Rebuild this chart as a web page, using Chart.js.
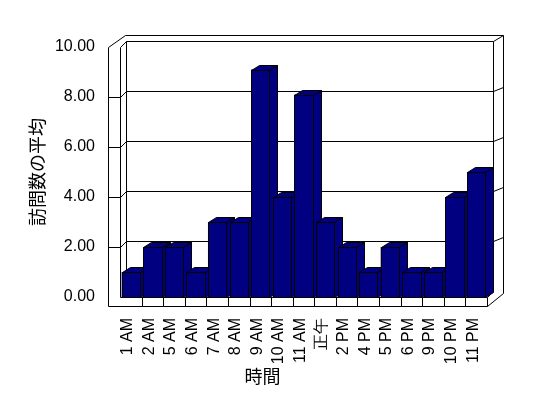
<!DOCTYPE html>
<html><head><meta charset="utf-8">
<script src="https://cdn.jsdelivr.net/npm/chart.js@4"></script>
<style>html,body{margin:0;padding:0;background:#fff}#wrap{width:548px;height:398px;position:relative}</style>
</head><body><div id="wrap"><canvas id="c"></canvas></div>
<script>
const categories = ['1 AM','2 AM','5 AM','6 AM','7 AM','8 AM','9 AM','10 AM','11 AM','正午','2 PM','4 PM','5 PM','6 PM','9 PM','10 PM','11 PM'];
const averageVisits = [1,2,2,1,3,3,9.1,4,8.1,3,2,1,2,1,1,4,5];
const yTicks = [0,2,4,6,8,10];
const xTitle = '時間';
const yTitle = '訪問数の平均';

const NAVY = '#000080';
const WALL = {dx:6, dy:-6};
const BAR = {dx:8, dy:-5};

function ln(ctx,x1,y1,x2,y2){
  ctx.beginPath();
  ctx.moveTo(Math.round(x1)+0.5, Math.round(y1)+0.5);
  ctx.lineTo(Math.round(x2)+0.5, Math.round(y2)+0.5);
  ctx.stroke();
}

const framePlugin = {
  id:'frame3d',
  beforeDatasetsDraw(chart){
    const ctx = chart.ctx, xs = chart.scales.x, ys = chart.scales.y;
    const L = xs.left, R = xs.right;
    const y0 = ys.getPixelForValue(yTicks[0]);
    const yT = ys.getPixelForValue(yTicks[yTicks.length-1]);
    ctx.save();
    ctx.strokeStyle = '#000'; ctx.lineWidth = 1;
    const bL = L + WALL.dx, bR = R + WALL.dx, bT = yT + WALL.dy, bB = y0 + WALL.dy;
    const oL = L - 12, oT = yT - 12, oR = R + 16, oB = y0 + 9;
    yTicks.slice(1, -1).forEach(v => {
      const y = ys.getPixelForValue(v);
      ln(ctx, oL, y, L, y);
      ln(ctx, L, y, bL, y + WALL.dy);
      ln(ctx, bL, y + WALL.dy, bR, y + WALL.dy);
      ln(ctx, bR, y + WALL.dy, oR, y + WALL.dy - 4);
    });
    ln(ctx, oL, yT, oL, oB);
    ln(ctx, L, yT, L, y0);
    ln(ctx, bL, bT, bL, bB);
    ln(ctx, oL, yT, L + 5, oT);
    ln(ctx, L, yT, bL, bT);
    ln(ctx, L + 5, oT, oR, oT);
    ln(ctx, bL, bT, bR, bT);
    ln(ctx, bR, bT, oR, oT);
    ln(ctx, bR, bT, bR, bB);
    ln(ctx, oR, oT, oR, bB + 2);
    ln(ctx, bL, bB, bR, bB);
    ln(ctx, L, y0, R, y0);
    ln(ctx, oL, oB, R, oB);
    ln(ctx, R, y0, R, oB);
    ln(ctx, R, y0, bR, bB);
    ln(ctx, R, oB, oR, bB + 2);
    const w = (R - L) / categories.length;
    for (let i = 1; i < categories.length; i++) {
      const x = L + i * w;
      ln(ctx, x, y0, x, oB);
    }
    ctx.restore();
  },
  afterDatasetsDraw(chart){
    const ctx = chart.ctx;
    const meta = chart.getDatasetMeta(0);
    ctx.save();
    ctx.strokeStyle = '#000'; ctx.lineWidth = 1; ctx.fillStyle = NAVY;
    meta.data.forEach(el => {
      const x0 = Math.round(el.x - el.width/2) + 0.5;
      const x1 = Math.round(el.x + el.width/2) + 0.5;
      const yt = Math.round(el.y) + 0.5;
      const yb = Math.round(el.base) + 0.5;
      const dx = BAR.dx, dy = BAR.dy;
      ctx.beginPath();
      ctx.moveTo(x1, yt); ctx.lineTo(x1+dx, yt+dy); ctx.lineTo(x1+dx, yb+dy); ctx.lineTo(x1, yb); ctx.closePath();
      ctx.fill(); ctx.stroke();
      ctx.beginPath();
      ctx.moveTo(x0, yt); ctx.lineTo(x0+dx, yt+dy); ctx.lineTo(x1+dx, yt+dy); ctx.lineTo(x1, yt); ctx.closePath();
      ctx.fill(); ctx.stroke();
      ctx.beginPath();
      ctx.rect(x0, yt, x1 - x0, yb - yt);
      ctx.fill(); ctx.stroke();
    });
    ctx.restore();
  },
  afterDraw(chart){
    const ctx = chart.ctx, xs = chart.scales.x, ys = chart.scales.y;
    ctx.save();
    ctx.fillStyle = '#000';
    ctx.font = '18px "Noto Sans CJK JP", sans-serif';
    ctx.textAlign = 'center'; ctx.textBaseline = 'middle';
    ctx.fillText(xTitle, xs.left + (xs.right - xs.left) * 0.388, 376);
    ctx.translate(37, (ys.top + ys.bottom) / 2);
    ctx.rotate(-Math.PI/2);
    ctx.fillText(yTitle, 0, 0);
    ctx.restore();
  }
};

new Chart(document.getElementById('c'), {
  type:'bar',
  data:{ labels: categories, datasets:[{ data: averageVisits, backgroundColor: NAVY, borderWidth:0, categoryPercentage:1, barPercentage:0.85 }] },
  options:{
    responsive:true, maintainAspectRatio:false, animation:false,
    layout:{ padding:{ left:0, top:47, right:61, bottom:0 } },
    plugins:{ legend:{display:false}, tooltip:{enabled:false} },
    scales:{
      x:{
        grid:{display:false, drawTicks:false}, border:{display:false},
        ticks:{ color:'#000', font:{family:'"Liberation Sans", Arial, sans-serif', size:16}, minRotation:90, maxRotation:90, autoSkip:false, padding:21, labelOffset:-3 },
        afterFit(s){ s.height = 101; }
      },
      y:{
        min:0, max:10,
        grid:{display:false, drawTicks:false}, border:{display:false},
        ticks:{ color:'#000', stepSize:2, padding:25, font:{family:'"Liberation Sans", Arial, sans-serif', size:16}, callback:v => Number(v).toFixed(2) },
        afterFit(s){ s.width = 120; }
      }
    }
  },
  plugins:[framePlugin]
});
</script>
</body></html>
